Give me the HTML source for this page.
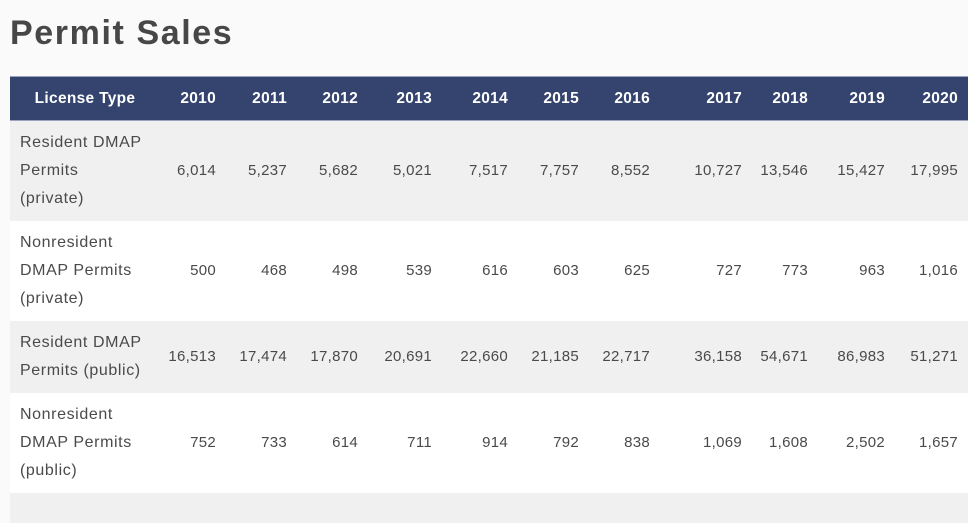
<!DOCTYPE html>
<html><head><meta charset="utf-8"><style>
body{margin:0;width:968px;height:500px;overflow:hidden;background:#fafafa;font-family:"Liberation Sans",sans-serif;color:#444}
h1{position:absolute;left:10px;top:14px;margin:0;font-size:34px;font-weight:bold;color:#474747;letter-spacing:1.6px}
table{position:absolute;left:10px;top:76px;width:958px;border-collapse:collapse;table-layout:fixed;font-size:15px}
th{background:#34446e;color:#fff;font-weight:bold;height:43px;padding:0 10px 0 0;text-align:right;border-top:1px solid #9aa3bd;border-bottom:1px solid #9aa3bd;font-size:15.5px;letter-spacing:0.3px}
th:first-child{text-align:center;padding:0}
td{text-align:right;padding:0 10px 0 0;line-height:28px;color:#4a4a4a;letter-spacing:0.3px}
td:first-child{text-align:left;padding-left:10px;font-size:16px;letter-spacing:0.6px;white-space:nowrap}
tr.g td{background:#f0f0f0}
tr.w td{background:#fff}
</style></head><body>
<h1>Permit Sales</h1>
<table>
<colgroup><col style="width:150px"><col style="width:66px"><col style="width:71px"><col style="width:71px"><col style="width:74px"><col style="width:76px"><col style="width:71px"><col style="width:71px"><col style="width:92px"><col style="width:66px"><col style="width:77px"><col style="width:73px"></colgroup>
<tr><th>License Type</th><th>2010</th><th>2011</th><th>2012</th><th>2013</th><th>2014</th><th>2015</th><th>2016</th><th>2017</th><th>2018</th><th>2019</th><th>2020</th></tr>
<tr class="g" style="height:100px"><td>Resident DMAP<br>Permits<br>(private)</td><td>6,014</td><td>5,237</td><td>5,682</td><td>5,021</td><td>7,517</td><td>7,757</td><td>8,552</td><td>10,727</td><td>13,546</td><td>15,427</td><td>17,995</td></tr>
<tr class="w" style="height:100px"><td>Nonresident<br>DMAP Permits<br>(private)</td><td>500</td><td>468</td><td>498</td><td>539</td><td>616</td><td>603</td><td>625</td><td>727</td><td>773</td><td>963</td><td>1,016</td></tr>
<tr class="g" style="height:72px"><td>Resident DMAP<br>Permits (public)</td><td>16,513</td><td>17,474</td><td>17,870</td><td>20,691</td><td>22,660</td><td>21,185</td><td>22,717</td><td>36,158</td><td>54,671</td><td>86,983</td><td>51,271</td></tr>
<tr class="w" style="height:100px"><td>Nonresident<br>DMAP Permits<br>(public)</td><td>752</td><td>733</td><td>614</td><td>711</td><td>914</td><td>792</td><td>838</td><td>1,069</td><td>1,608</td><td>2,502</td><td>1,657</td></tr>
<tr class="g" style="height:30px"><td></td><td></td><td></td><td></td><td></td><td></td><td></td><td></td><td></td><td></td><td></td><td></td></tr>
</table>
</body></html>
